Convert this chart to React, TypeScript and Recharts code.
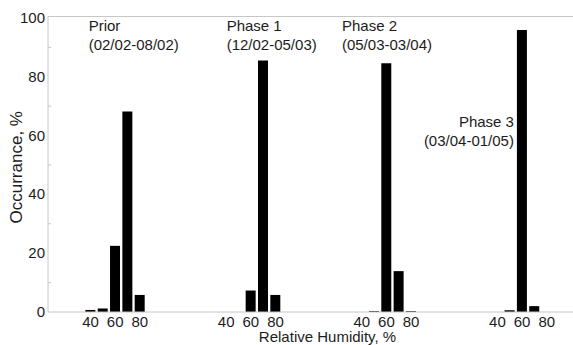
import { Bar, BarChart, Label, ReferenceDot, ReferenceLine, XAxis, YAxis } from "recharts";

// humidity bins (bin centres, %)
const humidityBins = [40, 50, 60, 70, 80];

// occurrence per bin, %
const priorValues = [0.7, 1.2, 22.5, 68.2, 5.8];
const phase1Values = [0, 0, 7.3, 85.5, 5.8];
const phase2Values = [0, 0.3, 84.6, 13.9, 0.3];
const phase3Values = [0, 0.6, 95.9, 2.0, 0];

const phaseNames = ["Prior", "Phase 1", "Phase 2", "Phase 3"];
const phaseDates = ["(02/02-08/02)", "(12/02-05/03)", "(05/03-03/04)", "(03/04-01/05)"];

const xTickLabels = [40, 60, 80];
const yTicks = [0, 10, 20, 30, 40, 50, 60, 70, 80, 90, 100];

// layout: each phase sits in its own slot on one shared humidity axis
const GROUP_SPAN = 110;
const X_DOMAIN = [5.5, 431.3];
const Y_MAX = 100.5;
const FONT = "'Liberation Sans', Arial, Helvetica, sans-serif";
const AXIS = "#c6c6c6";
const INK = "#1c1c1c";

// where the two-line phase captions sit (data units), and how they are aligned
const captionAnchors = [
  { x: 38.5, y: 95.6, anchor: "start" },
  { x: 150.4, y: 95.6, anchor: "start" },
  { x: 243.9, y: 95.6, anchor: "start" },
  { x: 383.4, y: 62.9, anchor: "end" },
];

const series = [priorValues, phase1Values, phase2Values, phase3Values];

const rows = series.flatMap((values, g) =>
  humidityBins.map((rh, i) => ({ x: g * GROUP_SPAN + rh, value: values[i] }))
);

const xTicks = series.flatMap((_, g) => xTickLabels.map((t) => g * GROUP_SPAN + t));

function YTick({ x, y, payload }: any) {
  const v = payload.value as number;
  if (v % 20 !== 0) {
    return <line x1={x + 3} x2={x + 6} y1={y} y2={y} stroke={AXIS} strokeWidth={1} />;
  }
  return (
    <text x={x} y={y} dy={5} textAnchor="end" fontSize={15} fill={INK} fontFamily={FONT}>
      {v}
    </text>
  );
}

function Caption({ viewBox, name, dates, anchor }: any) {
  const x = viewBox.x + viewBox.width / 2;
  const y = viewBox.y + viewBox.height / 2;
  return (
    <g fontSize={15} fill={INK} fontFamily={FONT}>
      <text x={x} y={y} textAnchor={anchor}>
        {name}
      </text>
      <text x={x} y={y + 19} textAnchor={anchor}>
        {dates}
      </text>
    </g>
  );
}

export default function App() {
  return (
    <div style={{ position: "absolute", left: 0, top: 0, width: 573, height: 345, background: "#fff" }}>
      <BarChart
        width={573}
        height={345}
        data={rows}
        margin={{ top: 16.5, right: 0, bottom: 0, left: 0 }}
        style={{ fontFamily: FONT }}
      >
        <XAxis
          dataKey="x"
          type="number"
          domain={X_DOMAIN}
          allowDataOverflow
          ticks={xTicks}
          interval={0}
          tickFormatter={(v: number) => String(v % GROUP_SPAN)}
          tickLine={false}
          tickSize={0}
          tickMargin={4}
          height={33}
          stroke={AXIS}
          tick={{ fontSize: 15, fill: INK, fontFamily: FONT }}
        >
          <Label
            content={({ viewBox }: any) => (
              <text
                x={viewBox.x + viewBox.width / 2 + 17}
                y={viewBox.y + 30}
                textAnchor="middle"
                fontSize={15}
                fill={INK}
                fontFamily={FONT}
              >
                Relative Humidity, %
              </text>
            )}
          />
        </XAxis>
        <YAxis
          type="number"
          domain={[0, Y_MAX]}
          ticks={yTicks}
          interval={0}
          width={48}
          tickLine={false}
          tickSize={0}
          tickMargin={3}
          stroke={AXIS}
          tick={<YTick />}
        >
          <Label
            content={({ viewBox }: any) => (
              <text
                x={18}
                y={viewBox.y + viewBox.height / 2 + 3}
                transform={`rotate(-90, 18, ${viewBox.y + viewBox.height / 2 + 3})`}
                textAnchor="middle"
                dominantBaseline="middle"
                fontSize={17}
                fill={INK}
                fontFamily={FONT}
              >
                Occurrance, %
              </text>
            )}
          />
        </YAxis>
        <ReferenceLine y={Y_MAX} stroke={AXIS} strokeWidth={1} />
        <Bar dataKey="value" fill="#000" barSize={10} isAnimationActive={false} />
        {captionAnchors.map((c, i) => (
          <ReferenceDot
            key={phaseNames[i]}
            x={c.x}
            y={c.y}
            r={1}
            fill="none"
            stroke="none"
            label={<Caption name={phaseNames[i]} dates={phaseDates[i]} anchor={c.anchor} />}
          />
        ))}
      </BarChart>
    </div>
  );
}
